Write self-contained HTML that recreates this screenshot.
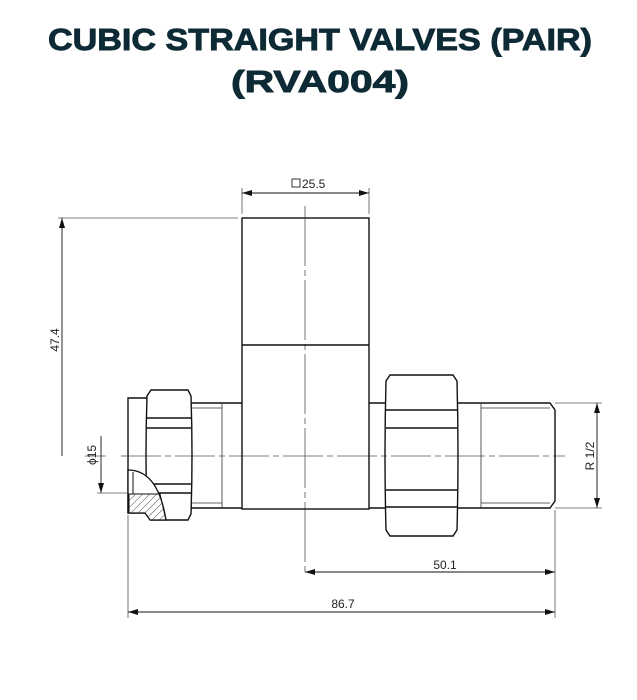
<!DOCTYPE html>
<html><head><style>body{margin:0;background:#fff}svg{display:block}</style></head><body>
<svg width="637" height="700" viewBox="0 0 637 700" xmlns="http://www.w3.org/2000/svg" font-family="Liberation Sans, sans-serif">
<rect width="637" height="700" fill="#fff"/>
<text x="320" y="50" text-anchor="middle" font-size="31" font-weight="bold" fill="#0d2a35" stroke="#0d2a35" stroke-width="0.9" textLength="544" lengthAdjust="spacingAndGlyphs">CUBIC STRAIGHT VALVES (PAIR)</text>
<text x="320" y="92" text-anchor="middle" font-size="31" font-weight="bold" fill="#0d2a35" stroke="#0d2a35" stroke-width="0.9" textLength="178" lengthAdjust="spacingAndGlyphs">(RVA004)</text>
<defs>
<marker id="a" viewBox="0 0 10 6" refX="10" refY="3" markerWidth="10" markerHeight="6" orient="auto-start-reverse" markerUnits="userSpaceOnUse"><path d="M0,0L10,3L0,6z" fill="#111"/></marker>
<pattern id="h" width="5" height="5" patternUnits="userSpaceOnUse" patternTransform="rotate(45)"><line x1="0" y1="0" x2="0" y2="5" stroke="#222" stroke-width="0.8"/></pattern>
</defs>
<g fill="none" stroke="#555" stroke-width="0.8">
<line x1="121" y1="456" x2="565" y2="456" stroke-dasharray="40,4,6,4"/>
<line x1="305" y1="206" x2="305" y2="576" stroke-dasharray="60,4,6,4"/>
<line x1="242" y1="188" x2="242" y2="214"/>
<line x1="369" y1="188" x2="369" y2="214"/>
<line x1="58" y1="218" x2="238" y2="218"/>
<line x1="555" y1="403" x2="602" y2="403"/>
<line x1="555" y1="508" x2="602" y2="508"/>
<line x1="97" y1="493" x2="127" y2="493"/>
<line x1="555" y1="510" x2="555" y2="618"/>
<line x1="128" y1="515" x2="128" y2="618"/>
<line x1="85" y1="456" x2="106" y2="456"/>
</g>
<g fill="none" stroke="#111" stroke-width="0.9">
<line x1="242" y1="193" x2="369" y2="193" marker-start="url(#a)" marker-end="url(#a)"/>
<line x1="62" y1="218" x2="62" y2="456" marker-start="url(#a)"/>
<line x1="597" y1="403" x2="597" y2="508" marker-start="url(#a)" marker-end="url(#a)"/>
<line x1="101" y1="436" x2="101" y2="493" marker-end="url(#a)"/>
<line x1="305" y1="572" x2="555" y2="572" marker-start="url(#a)" marker-end="url(#a)"/>
<line x1="128" y1="612" x2="555" y2="612" marker-start="url(#a)" marker-end="url(#a)"/>
</g>
<g fill="#222" font-size="12">
<rect x="292" y="179" width="8" height="8" fill="none" stroke="#222" stroke-width="0.9"/>
<text x="302" y="188">25.5</text>
<text transform="translate(59,340) rotate(-90)" text-anchor="middle">47.4</text>
<text transform="translate(96,455) rotate(-90)" text-anchor="middle">ϕ15</text>
<text transform="translate(594,456) rotate(-90)" text-anchor="middle">R 1/2</text>
<text x="445" y="569" text-anchor="middle">50.1</text>
<text x="343" y="608" text-anchor="middle">86.7</text>
</g>
<g fill="none" stroke="#111" stroke-width="1.4">
<rect x="242" y="218" width="127" height="291"/>
<line x1="242" y1="345" x2="369" y2="345"/>
<line x1="191" y1="403" x2="242" y2="403"/>
<line x1="191" y1="508" x2="242" y2="508"/>
<path d="M147,398H128V513H147"/>
<path d="M151,390H188L191,396Q193,455 191,514L188,520H151L147,514Q145,455 147,396Z"/>
<line x1="147" y1="418" x2="191" y2="418"/>
<line x1="147" y1="428" x2="191" y2="428"/>
<line x1="147" y1="484" x2="191" y2="484"/>
<line x1="147" y1="493" x2="191" y2="493"/>
<line x1="369" y1="403" x2="386" y2="403"/>
<line x1="369" y1="508" x2="386" y2="508"/>
<path d="M390,375H453L457,381Q459,455 457,530L453,536H390L386,530Q384,455 386,381Z"/>
<line x1="386" y1="410" x2="457" y2="410"/>
<line x1="386" y1="428" x2="457" y2="428"/>
<line x1="386" y1="490" x2="457" y2="490"/>
<line x1="386" y1="507" x2="457" y2="507"/>
<path d="M457,403H550L555,410V501L550,508H457"/>
</g>
<g fill="none" stroke="#333" stroke-width="0.8">
<path d="M191,408H222M191,503H222M222,403V508"/>
<path d="M481,408H550M481,503H550M481,403V508"/>
</g>
<path d="M128,470 Q158,470 166,520 H150 L145,513 H128 Z" fill="#fff" stroke="#111" stroke-width="1.3"/>
<path d="M129,494 H160 L166,520 H150 L145,513 H129 Z" fill="url(#h)" stroke="#111" stroke-width="1"/>
<line x1="133" y1="472" x2="133" y2="494" stroke="#111" stroke-width="1"/>
</svg>
</body></html>
